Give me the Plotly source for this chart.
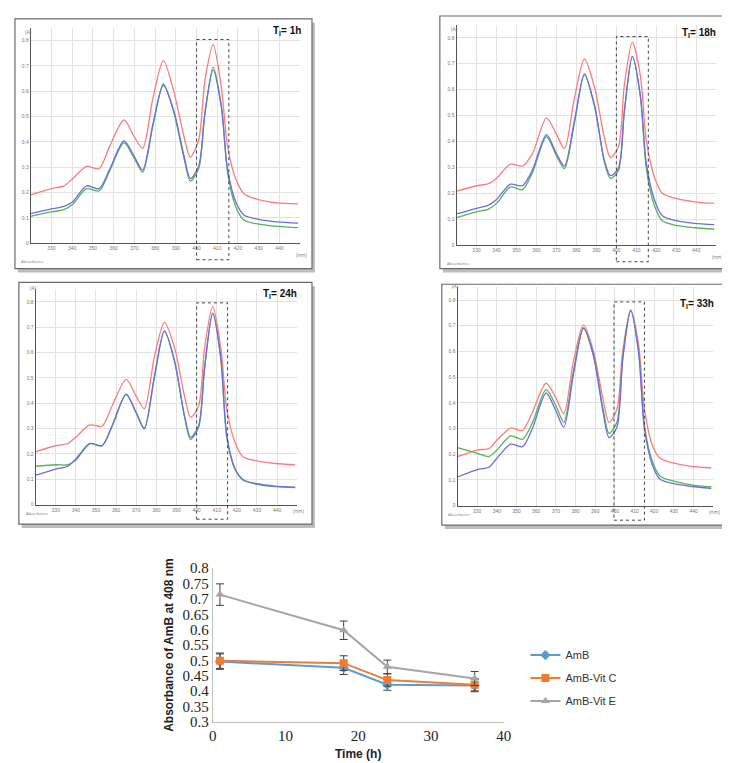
import plotly.graph_objects as go

# ---------------- data ----------------
wavelength = [320, 330, 336, 340, 347, 353, 358, 365, 370, 374, 379, 384, 389,
              394, 397, 401, 404, 408, 412, 415, 419, 423, 430, 439, 449]

t1_red = [0.19, 0.215, 0.226, 0.252, 0.303, 0.294, 0.381, 0.486, 0.419, 0.374, 0.574, 0.72, 0.6,
          0.419, 0.339, 0.406, 0.639, 0.783, 0.613, 0.381, 0.252, 0.194, 0.172, 0.159, 0.155]
t1_blue = [0.116, 0.135, 0.145, 0.161, 0.226, 0.215, 0.29, 0.403, 0.342, 0.288, 0.471, 0.623, 0.523,
           0.342, 0.255, 0.303, 0.51, 0.684, 0.535, 0.29, 0.161, 0.11, 0.094, 0.084, 0.079]
t1_green = [0.106, 0.123, 0.132, 0.151, 0.215, 0.206, 0.283, 0.396, 0.334, 0.28, 0.466, 0.628, 0.517,
            0.334, 0.245, 0.293, 0.51, 0.694, 0.542, 0.277, 0.142, 0.09, 0.075, 0.066, 0.061]

t18_red = [0.208, 0.229, 0.237, 0.258, 0.312, 0.305, 0.353, 0.491, 0.428, 0.372, 0.567, 0.718, 0.611,
           0.416, 0.338, 0.378, 0.617, 0.783, 0.655, 0.403, 0.264, 0.2, 0.18, 0.167, 0.161]
t18_blue = [0.12, 0.142, 0.154, 0.176, 0.235, 0.229, 0.29, 0.426, 0.353, 0.305, 0.479, 0.661, 0.542,
            0.327, 0.268, 0.296, 0.516, 0.728, 0.579, 0.315, 0.176, 0.113, 0.094, 0.084, 0.079]
t18_green = [0.106, 0.128, 0.139, 0.161, 0.224, 0.214, 0.28, 0.418, 0.345, 0.295, 0.471, 0.657, 0.537,
             0.32, 0.257, 0.287, 0.516, 0.728, 0.573, 0.296, 0.154, 0.094, 0.076, 0.067, 0.062]

t24_red = [0.208, 0.232, 0.241, 0.266, 0.314, 0.309, 0.389, 0.494, 0.427, 0.378, 0.582, 0.719, 0.62,
           0.427, 0.344, 0.389, 0.62, 0.781, 0.62, 0.376, 0.247, 0.189, 0.172, 0.162, 0.157]
t24_blue = [0.116, 0.14, 0.151, 0.18, 0.241, 0.232, 0.311, 0.436, 0.363, 0.301, 0.505, 0.685, 0.569,
            0.35, 0.265, 0.311, 0.543, 0.755, 0.582, 0.273, 0.144, 0.099, 0.082, 0.073, 0.069]
t24_green = [0.151, 0.157, 0.157, 0.176, 0.24, 0.232, 0.308, 0.434, 0.36, 0.298, 0.5, 0.683, 0.565,
             0.345, 0.257, 0.305, 0.54, 0.755, 0.575, 0.265, 0.14, 0.097, 0.08, 0.071, 0.067]

t33_red = [0.19, 0.216, 0.222, 0.254, 0.301, 0.292, 0.362, 0.476, 0.419, 0.358, 0.565, 0.703, 0.604,
           0.413, 0.324, 0.375, 0.604, 0.762, 0.629, 0.375, 0.235, 0.184, 0.165, 0.152, 0.146]
t33_blue = [0.111, 0.14, 0.149, 0.184, 0.239, 0.229, 0.299, 0.438, 0.368, 0.305, 0.515, 0.69, 0.585,
            0.362, 0.264, 0.305, 0.572, 0.759, 0.597, 0.299, 0.159, 0.102, 0.085, 0.074, 0.067]
t33_green = [0.225, 0.203, 0.191, 0.216, 0.271, 0.258, 0.321, 0.451, 0.388, 0.324, 0.527, 0.692, 0.591,
             0.375, 0.281, 0.324, 0.578, 0.76, 0.604, 0.311, 0.172, 0.114, 0.095, 0.08, 0.072]

panel_titles = ["T<sub>I</sub>= 1h", "T<sub>I</sub>= 18h", "T<sub>I</sub>= 24h", "T<sub>I</sub>= 33h"]
box_nm = [[400, 415.6], [400, 416], [400, 415.4], [399.5, 415]]
spec_xticks = [330, 340, 350, 360, 370, 380, 390, 400, 410, 420, 430, 440]
spec_yticks = [0, 0.1, 0.2, 0.3, 0.4, 0.5, 0.6, 0.7, 0.8]

time_h = [1, 18, 24, 36]
amb = [0.496, 0.476, 0.421, 0.418]
amb_err = [0.025, 0.022, 0.018, 0.02]
amb_vitc = [0.499, 0.491, 0.436, 0.421]
amb_vitc_err = [0.025, 0.024, 0.02, 0.02]
amb_vite = [0.714, 0.598, 0.479, 0.441]
amb_vite_err = [0.035, 0.03, 0.022, 0.023]
series_names = ["AmB", "AmB-Vit C", "AmB-Vit E"]

# ---------------- layout helpers ----------------
W, H = 730, 763


def px(x):
    return x / W


def py(y):
    return 1 - y / H


panels = [
    dict(frame=(3, 3, 305, 258), plot=(19, 12, 293, 232), box_y=(24, 249), title=(296, 15),
         data=(t1_red, t1_blue, t1_green)),
    dict(frame=(435, 0, 723, 258), plot=(452, 9, 716, 234), box_y=(21, 251), title=(718, 17),
         data=(t18_red, t18_blue, t18_green)),
    dict(frame=(7, 272, 305, 519), plot=(24, 279, 290, 499), box_y=(293, 514), title=(292, 284),
         data=(t24_red, t24_blue, t24_green)),
    dict(frame=(437, 274, 723, 520), plot=(453, 277, 713, 500), box_y=(292, 515), title=(716, 294),
         data=(t33_red, t33_blue, t33_green)),
]

colors = ["#ff7b7b", "#6c6ce6", "#55b455"]

fig = go.Figure()
shapes = []
annotations = []
layout_axes = {}

for i, p in enumerate(panels):
    k = i + 1
    xa = "x" if k == 1 else f"x{k}"
    ya = "y" if k == 1 else f"y{k}"
    order = [0, 2, 1]
    for j in order:
        fig.add_trace(go.Scatter(
            x=wavelength, y=p["data"][j], mode="lines",
            line=dict(color=colors[j], width=1.3, shape="spline", smoothing=0.8),
            xaxis=xa, yaxis=ya, showlegend=False, hoverinfo="skip"))
    x0, y0, x1, y1 = p["plot"]
    axis_common = dict(showgrid=True, gridcolor="#e2e2e2", gridwidth=1, zeroline=False,
                       showline=True, linecolor="#555", linewidth=1, ticks="",
                       tickfont=dict(size=5, color="#777", family="Liberation Sans"))
    layout_axes["xaxis" if k == 1 else f"xaxis{k}"] = dict(
        domain=[px(x0), px(x1)], range=[320, 450], tickvals=spec_xticks,
        anchor=ya, **axis_common)
    layout_axes["yaxis" if k == 1 else f"yaxis{k}"] = dict(
        domain=[py(y1), py(y0)], range=[0, 0.85], tickvals=spec_yticks,
        ticktext=["0" if v == 0 else f"0.{int(round(v*10))}" for v in spec_yticks],
        anchor=xa, **axis_common)
    fx0, fy0, fx1, fy1 = p["frame"]
    shapes.append(dict(type="rect", xref="paper", yref="paper", layer="below",
                       x0=px(fx0 + 3), x1=px(fx1 + 3), y0=py(fy1 + 4), y1=py(fy0 + 4),
                       fillcolor="#bdbdbd", line=dict(width=0)))
    shapes.append(dict(type="rect", xref="paper", yref="paper", layer="below",
                       x0=px(fx0), x1=px(fx1), y0=py(fy1), y1=py(fy0),
                       fillcolor="white", line=dict(color="#6a6a6a", width=1.2)))
    by0, by1 = p["box_y"]
    shapes.append(dict(type="rect", xref=xa, yref="paper",
                       x0=box_nm[i][0], x1=box_nm[i][1], y0=py(by1), y1=py(by0),
                       line=dict(color="#444", width=1, dash="dot")))
    tx, ty = p["title"]
    annotations.append(dict(x=px(tx), y=py(ty), xref="paper", yref="paper", xanchor="right",
                            yanchor="middle", showarrow=False, text="<b>" + panel_titles[i] + "</b>",
                            font=dict(size=10, color="#111", family="Liberation Sans")))
    annotations.append(dict(x=px(x0 - 8), y=py(y0 - 1), xref="paper", yref="paper", xanchor="left",
                            showarrow=False, text="(A)", font=dict(size=5, color="#777")))
    annotations.append(dict(x=px(x0 - 12), y=py(y1 + 14), xref="paper", yref="paper", xanchor="left",
                            showarrow=False, text="Absorbance", font=dict(size=4, color="#777")))
    annotations.append(dict(x=px(x1 + 1), y=py(y1 + 7), xref="paper", yref="paper", xanchor="center",
                            showarrow=False, text="(nm)", font=dict(size=5, color="#777")))

# ---------------- bottom chart ----------------
cols = ["#5b9bd5", "#ed7d31", "#a5a5a5"]
symbols = ["diamond", "square", "triangle-up"]
for name, vals, errs, c, s in zip(series_names, [amb, amb_vitc, amb_vite],
                                  [amb_err, amb_vitc_err, amb_vite_err], cols, symbols):
    fig.add_trace(go.Scatter(
        x=time_h, y=vals, name=name, mode="lines+markers", legendgroup=name,
        line=dict(color=c, width=2), marker=dict(symbol=s, size=8, color=c),
        error_y=dict(type="data", array=errs, color="#404040", thickness=1, width=4),
        xaxis="x5", yaxis="y5"))

layout_axes["xaxis5"] = dict(
    domain=[px(204), px(500)], range=[0, 40], dtick=10, anchor="y5",
    showline=True, linecolor="#bfbfbf", linewidth=1, showgrid=False, zeroline=False, ticks="",
    tickfont=dict(family="Liberation Serif", size=15, color="#222"),
    title=dict(text="<b>Time (h)</b>", font=dict(family="Liberation Sans", size=12, color="#222"),
               standoff=6))
layout_axes["yaxis5"] = dict(
    domain=[py(721), py(564)], range=[0.3, 0.8], dtick=0.05, anchor="x5",
    showline=True, linecolor="#bfbfbf", linewidth=1, showgrid=False, zeroline=False, ticks="",
    tickfont=dict(family="Liberation Serif", size=15, color="#222"),
    title=dict(text="<b>Absorbance of AmB at 408 nm</b>",
               font=dict(family="Liberation Sans", size=12, color="#222"), standoff=6))

fig.update_layout(
    width=W, height=H, autosize=False,
    margin=dict(l=0, r=0, t=0, b=0),
    paper_bgcolor="white", plot_bgcolor="rgba(0,0,0,0)",
    shapes=shapes, annotations=annotations,
    legend=dict(x=px(522), y=py(638), xanchor="left", yanchor="top",
                font=dict(family="Liberation Sans", size=11, color="#333"),
                bgcolor="rgba(0,0,0,0)", tracegroupgap=4, itemwidth=30),
    **layout_axes)

fig.write_html("out.html")
